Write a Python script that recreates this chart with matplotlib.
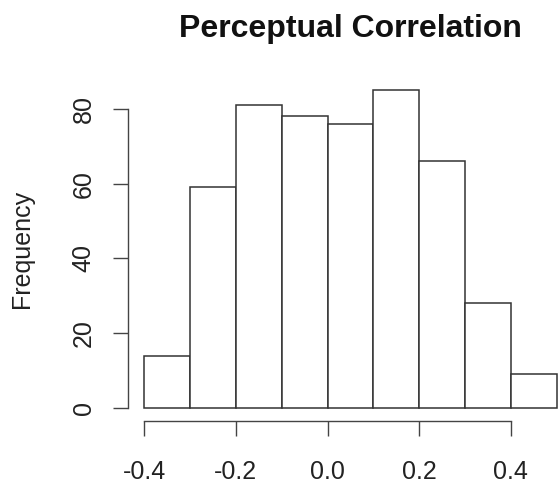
import matplotlib
matplotlib.use("Agg")
import matplotlib.pyplot as plt
import numpy as np

# histogram of perceptual correlation (R style)
breaks = [-0.4, -0.3, -0.2, -0.1, 0.0, 0.1, 0.2, 0.3, 0.4, 0.5]
counts = [14, 59, 81, 78, 76, 85, 66, 28, 9]
x_ticks = [-0.4, -0.2, 0.0, 0.2, 0.4]
x_labels = ["-0.4", "-0.2", "0.0", "0.2", "0.4"]
y_ticks = [0, 20, 40, 60, 80]

plt.rcParams['font.family'] = ['Liberation Sans', 'DejaVu Sans']

fig = plt.figure(figsize=(5.58, 4.87), dpi=100)
ax = fig.add_axes([0.229, 0.136, 0.798, 0.705])

lefts = np.array(breaks[:-1])
widths = np.diff(breaks)
ax.bar(lefts, counts, width=widths, align="edge", facecolor="white",
       edgecolor="#333333", linewidth=1.1)

# R extends the ranges by 4%
xr = breaks[-1] - breaks[0]
ax.set_xlim(breaks[0] - 0.04 * xr, breaks[-1] + 0.04 * xr)
ymax = max(counts)
ax.set_ylim(-0.04 * ymax, ymax * 1.04)

for s in ["top", "right"]:
    ax.spines[s].set_visible(False)
ax.spines["bottom"].set_bounds(x_ticks[0], x_ticks[-1])
ax.spines["left"].set_bounds(y_ticks[0], y_ticks[-1])
for s in ["bottom", "left"]:
    ax.spines[s].set_color("#444444")
    ax.spines[s].set_linewidth(1.0)

ax.set_xticks(x_ticks)
ax.set_xticklabels(x_labels)
ax.set_yticks(y_ticks)
ax.set_yticklabels([str(v) for v in y_ticks], rotation=90, va="center")
ax.tick_params(axis="both", length=11, width=1.0, color="#444444",
               labelsize=18, labelcolor="#222222")
ax.tick_params(axis="x", pad=17)
ax.tick_params(axis="y", pad=12)

ax.set_ylabel("Frequency", fontsize=18, color="#222222", labelpad=27)
fig.text(0.628, 1 - 36.7 / 487, "Perceptual Correlation", ha="center",
         va="baseline", fontsize=23, fontweight="bold", color="#111111")

fig.savefig("out.png", dpi=100)
